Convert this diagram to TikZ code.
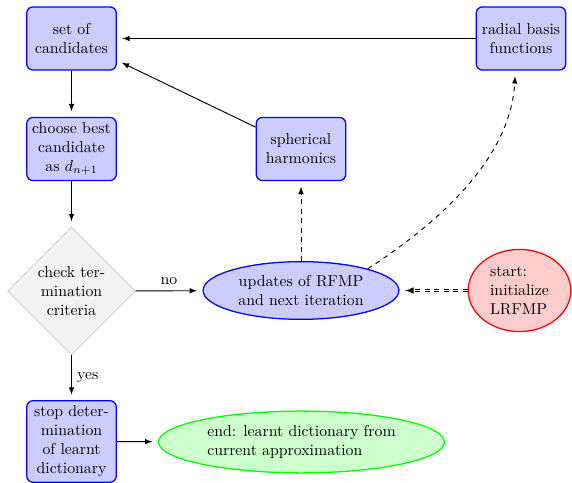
\documentclass[tikz,border=0pt]{standalone}
\usetikzlibrary{shapes.geometric,arrows,calc}
\begin{document}
\begin{tikzpicture}[x=0.633pt,y=-0.633pt,
  blockbox/.style={rectangle, draw=blue, thick, fill=blue!20, text width=5em, align=center, rounded corners, minimum height=4em},
  decisionbox/.style={diamond, draw=black!20, fill=black!5, text width=4.5em, align=center, inner sep=0pt, minimum width=81pt, minimum height=81pt},
  cloudblue/.style={ellipse, draw=blue, thick, fill=blue!20, align=center},
  conn/.style={draw, semithick, -latex, shorten >=3.5pt},
  dconn/.style={draw, semithick, dashed, -latex, shorten >=3.5pt}]
\useasboundingbox (0,0) rectangle (572,483);
\node[blockbox] (set) at (71.5,38.5) {set of candidates};
\node[blockbox] (choose) at (71.5,149) {choose best candidate as $d_{n+1}$};
\node[decisionbox] (check) at (71.5,291) {check ter-\\mination\\criteria};
\node[blockbox] (stop) at (71.5,441.5) {stop deter-\\mination\\of learnt\\dictionary};
\node[ellipse, draw=green, thick, fill=green!20, align=left, minimum width=181pt, minimum height=39pt] (end) at (301.5,442) {end: learnt dictionary from\\current approximation};
\node[cloudblue, minimum width=124pt, minimum height=36pt] (upd) at (301,290.5) {updates of RFMP\\and next iteration};
\node[ellipse, draw=red, thick, fill=red!20, align=left, minimum width=65pt, minimum height=52pt, inner sep=1pt] (start) at (519.5,290.5) {start:\\initialize\\LRFMP};
\node[blockbox] (sph) at (301,149) {spherical harmonics};
\node[blockbox] (rad) at (521,38.5) {radial basis functions};
\path[conn] (set) -- (choose);
\path[conn] (choose) -- (check);
\path[conn] (check) -- node[above] {no} (upd);
\path[conn] (check) -- node[right] {yes} (stop);
\path[conn] (stop) -- (end);
\path[draw, semithick, double, dashed, -latex, shorten >=3.5pt] (start) -- (upd);
\path[dconn] (upd) -- (sph);
\path[dconn] (upd.18) .. controls +(-33:80) and +(93:90) .. (rad.-100);
\path[conn] (sph) -- (set);
\path[conn] (rad) -- (set);
\end{tikzpicture}
\end{document}
